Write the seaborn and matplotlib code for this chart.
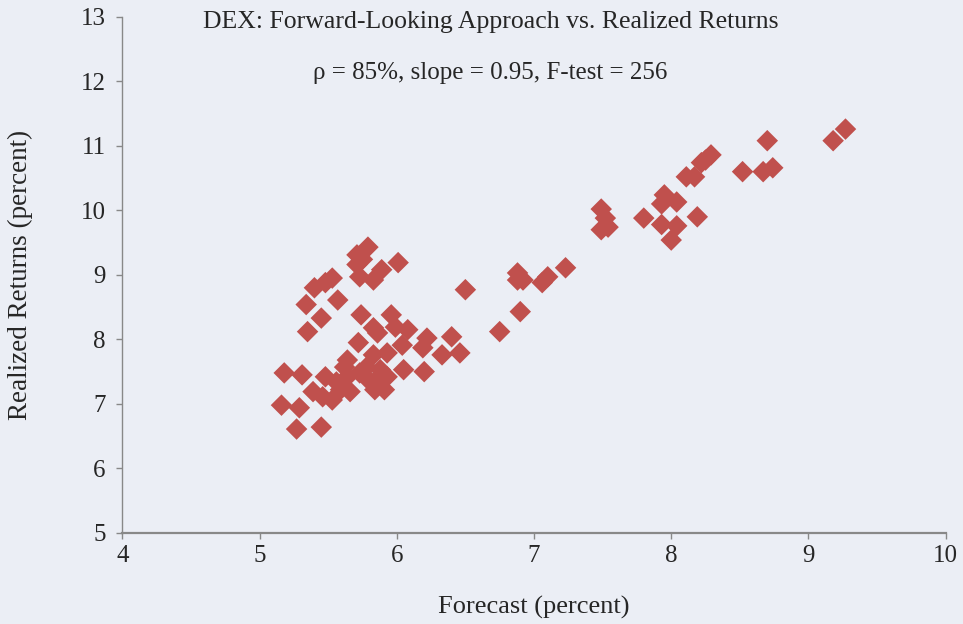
import matplotlib
matplotlib.use("Agg")
import matplotlib.pyplot as plt
import seaborn as sns
import pandas as pd

# forecast vs realized returns (percent)
forecast = [
    9.27, 9.18, 8.70, 8.74, 8.67, 8.52, 8.29, 8.25, 8.22, 8.17, 8.11,
    7.95, 7.93, 8.04, 7.80, 7.93, 8.04, 8.00, 8.19, 7.49, 7.52, 7.49, 7.54,
    6.50, 6.88, 6.92, 6.88, 7.06, 7.10, 7.23, 6.90, 6.75, 6.46,
    5.79, 5.71, 5.75, 5.71, 5.73, 5.83, 5.89, 6.01, 5.53, 5.48, 5.40, 5.57,
    5.34, 5.45, 5.35, 5.74, 5.96, 5.83, 5.86, 5.99, 6.08,
    5.72, 6.04, 6.22, 6.19, 6.40, 6.33,
    5.18, 5.31, 5.48, 5.64, 5.83, 5.93, 6.05, 6.20, 5.62, 5.78, 5.88, 5.73,
    5.64, 5.56, 5.39, 5.46, 5.53, 5.59, 5.66, 5.84, 5.91, 5.93, 5.85, 5.78,
    5.16, 5.29, 5.27, 5.45,
]
realized = [
    11.26, 11.08, 11.08, 10.66, 10.60, 10.60, 10.86, 10.78, 10.74, 10.52, 10.52,
    10.24, 10.10, 10.13, 9.88, 9.78, 9.76, 9.54, 9.90, 10.02, 9.88, 9.70, 9.74,
    8.77, 9.03, 8.92, 8.92, 8.88, 8.97, 9.11, 8.43, 8.12, 7.79,
    9.43, 9.31, 9.24, 9.16, 8.97, 8.92, 9.08, 9.19, 8.95, 8.88, 8.80, 8.61,
    8.54, 8.33, 8.12, 8.38, 8.38, 8.18, 8.10, 8.19, 8.15,
    7.95, 7.91, 8.02, 7.87, 8.04, 7.76,
    7.48, 7.45, 7.42, 7.68, 7.76, 7.79, 7.53, 7.50, 7.57, 7.57, 7.53, 7.48,
    7.42, 7.34, 7.19, 7.11, 7.06, 7.22, 7.19, 7.22, 7.22, 7.42, 7.37, 7.40,
    6.98, 6.94, 6.61, 6.64,
]

title = "DEX: Forward-Looking Approach vs. Realized Returns"
subtitle = "\u03c1 = 85%, slope = 0.95, F-test = 256"

df = pd.DataFrame({"forecast": forecast, "realized": realized})

bg = "#EBEEF5"
sns.set_style("white", {"axes.facecolor": bg, "figure.facecolor": bg})
plt.rcParams["font.family"] = ["Liberation Serif", "DejaVu Serif"]

fig = plt.figure(figsize=(9.63, 6.24), dpi=100)
ax = fig.add_axes([0.127, 0.146, 0.855, 0.827])

sns.scatterplot(data=df, x="forecast", y="realized", marker="D", s=120,
                color="#C0504D", edgecolor="none", ax=ax)

ax.set_xlim(4, 10)
ax.set_ylim(5, 13)
ax.set_xticks(range(4, 11))
ax.set_yticks(range(5, 14))
ax.set_xlabel("Forecast (percent)", fontsize=19)
ax.set_ylabel("Realized Returns (percent)", fontsize=19.5)
ax.xaxis.set_label_coords(0.5, -0.122)
ax.yaxis.set_label_coords(-0.108, 0.5)
ax.tick_params(axis="both", labelsize=18, length=4, width=1, color="#888888",
               direction="out", bottom=True, left=True)
ax.tick_params(axis="x", pad=5)
ax.tick_params(axis="y", pad=8)

for side in ["top", "right"]:
    ax.spines[side].set_visible(False)
ax.spines["left"].set_color("#888888")
ax.spines["bottom"].set_color("#888888")
ax.spines["left"].set_linewidth(1)
ax.spines["bottom"].set_linewidth(1.6)

ax.text(0.447, 0.99, title, transform=ax.transAxes, ha="center", va="center", fontsize=18.5)
ax.text(0.447, 0.891, subtitle, transform=ax.transAxes, ha="center", va="center", fontsize=18)

fig.savefig("out.png", dpi=100, facecolor=bg)
